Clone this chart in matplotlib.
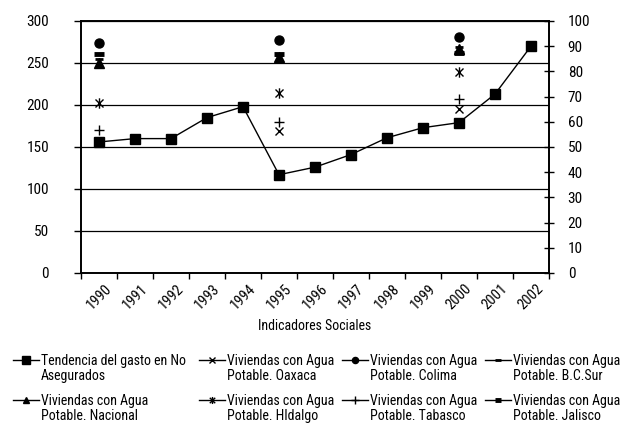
import numpy as np
import matplotlib
matplotlib.use("Agg")
import matplotlib.pyplot as plt
from matplotlib import font_manager
from matplotlib.lines import Line2D
from matplotlib.path import Path

# prefer a narrow sans face, fall back to regular ones
names = {f.name for f in font_manager.fontManager.ttflist}
wanted = ["Arial Narrow", "Liberation Sans Narrow", "Roboto Condensed",
          "Archivo Narrow", "PT Sans Narrow", "Open Sans Condensed",
          "Liberation Sans"]
family = next((n for n in wanted if n in names), "DejaVu Sans")
plt.rcParams["font.family"] = [family, "DejaVu Sans"]
narrow = family != "Liberation Sans"

years = ["1990", "1991", "1992", "1993", "1994", "1995", "1996",
         "1997", "1998", "1999", "2000", "2001", "2002"]

# spending trend (left axis)
gasto = [156, 160, 160, 185, 198, 117, 126, 141, 161, 173, 179, 213, 270]

# households with drinking water, % (right axis), census years only
nan = np.nan
oaxaca   = [52, nan, nan, nan, nan, 56.3, nan, nan, nan, nan, 65.2, nan, nan]
colima   = [91.3, nan, nan, nan, nan, 92.5, nan, nan, nan, nan, 93.8, nan, nan]
bcsur    = [85.0, nan, nan, nan, nan, 86.5, nan, nan, nan, nan, 89.7, nan, nan]
nacional = [83.3, nan, nan, nan, nan, 85.7, nan, nan, nan, nan, 89.0, nan, nan]
hidalgo  = [67.5, nan, nan, nan, nan, 71.5, nan, nan, nan, nan, 79.8, nan, nan]
tabasco  = [56.7, nan, nan, nan, nan, 59.8, nan, nan, nan, nan, 69.2, nan, nan]
jalisco  = [87.0, nan, nan, nan, nan, 86.8, nan, nan, nan, nan, 87.4, nan, nan]

legend_labels = [("Tendencia del gasto en No", "Asegurados"),
                 ("Viviendas con Agua", "Potable. Oaxaca"),
                 ("Viviendas con Agua", "Potable. Colima"),
                 ("Viviendas con Agua", "Potable. B.C.Sur"),
                 ("Viviendas con Agua", "Potable. Nacional"),
                 ("Viviendas con Agua", "Potable. HIdalgo"),
                 ("Viviendas con Agua", "Potable. Tabasco"),
                 ("Viviendas con Agua", "Potable. Jalisco")]

# asterisk: an x crossed by a vertical stroke
star = Path([(-1, -1), (1, 1), (-1, 1), (1, -1), (0, -1.3), (0, 1.3)],
            [Path.MOVETO, Path.LINETO] * 3)

W, H = 626, 433
x = np.arange(len(years)) + 0.5

fig = plt.figure(figsize=(W / 100, H / 100), dpi=100)
ax = fig.add_axes([81 / W, 1 - 273 / H, 468 / W, 252 / H])
ax2 = ax.twinx()

k = "black"
styles = [
    dict(marker="s", ms=7.5),
    dict(marker="x", ms=6, mew=1),
    dict(marker="o", ms=6.5),
    dict(marker="_", ms=6, mew=2),
    dict(marker="^", ms=6.5),
    dict(marker=star, ms=7.5, mew=1),
    dict(marker="+", ms=7.5, mew=1),
    dict(marker="_", ms=7, mew=3.5),
]

ax.plot(x, gasto, color=k, lw=1, **styles[0])
for vals, st in zip([oaxaca, colima, bcsur, nacional, hidalgo, tabasco, jalisco],
                    styles[1:]):
    ax2.plot(x, vals, color=k, lw=1, **st)

ax.set_xlim(0, len(years))
ax.set_ylim(0, 300)
ax2.set_ylim(0, 100)
ax.set_yticks(np.arange(0, 301, 50))
ax2.set_yticks(np.arange(0, 101, 10))
ax.yaxis.grid(True, color=k, lw=0.9)
ax.set_axisbelow(True)

tick_fs = 11 if narrow else 9.5
leg_fs = 10 if narrow else 7.5

ax.set_xticks(x)
ax.set_xticklabels(years, rotation=45, ha="center")
ax.tick_params(axis="x", length=0, pad=6, labelsize=10.5 if narrow else 9)
ax.set_xticks(np.arange(len(years) + 1), minor=True)
ax.tick_params(axis="x", which="minor", length=4, width=1, direction="out")
ax.tick_params(axis="y", length=5, width=1, pad=18, labelsize=tick_fs)
ax2.tick_params(axis="y", length=7, width=1, direction="inout", pad=10,
                labelsize=tick_fs)

for a in (ax, ax2):
    for s in a.spines.values():
        s.set_linewidth(1.2)
        s.set_color(k)

ax.set_xlabel("Indicadores Sociales", fontsize=leg_fs)
ax.xaxis.set_label_coords(0.5, (273 - 326) / 252)
ax.xaxis.label.set_va("center")

# legend laid out in a 4x2 grid below the chart
col_x = [13, 199, 342, 485]
row_y = [360, 400]
for i, ((l1, l2), st) in enumerate(zip(legend_labels, styles)):
    cx = col_x[i % 4]
    ry = row_y[i // 4]
    st = dict(st)
    st["ms"] = st["ms"] * 0.68
    fig.add_artist(Line2D([cx / W, (cx + 13) / W, (cx + 26) / W], [1 - ry / H] * 3,
                          transform=fig.transFigure, color=k, lw=1,
                          markevery=[1], **st))
    fig.text((cx + 28) / W, 1 - (ry + 5) / H, l1, fontsize=leg_fs,
             va="baseline", ha="left")
    fig.text((cx + 28) / W, 1 - (ry + 20) / H, l2, fontsize=leg_fs,
             va="baseline", ha="left")

fig.savefig("out.png", dpi=100)
